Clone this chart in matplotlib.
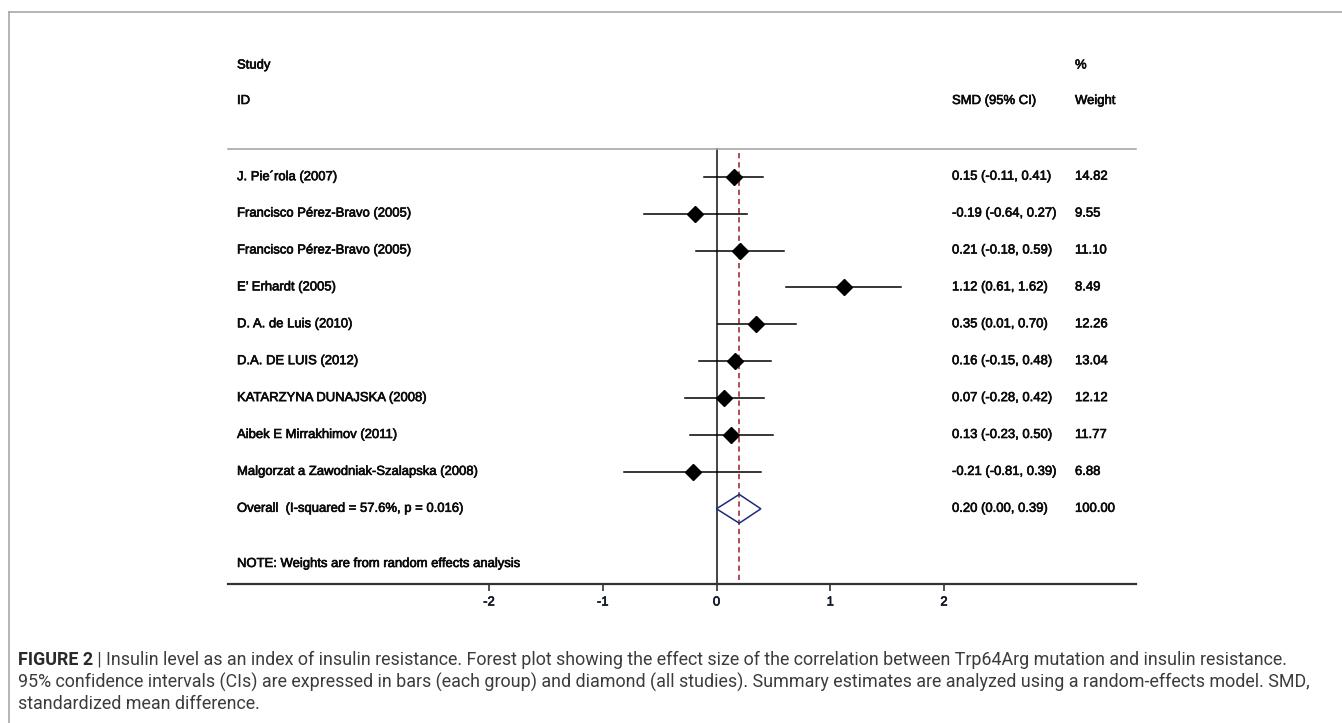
import matplotlib
matplotlib.use("Agg")
import matplotlib.pyplot as plt
import matplotlib.patheffects as pe
from matplotlib.patches import Polygon
from matplotlib.lines import Line2D

plt.rcParams['axes.unicode_minus'] = False

# ---------------- data ----------------
studies = ["J. Pie\u00b4rola (2007)", "Francisco P\u00e9rez-Bravo (2005)", "Francisco P\u00e9rez-Bravo (2005)",
           "E\u2019 Erhardt (2005)", "D. A. de Luis (2010)", "D.A. DE LUIS (2012)",
           "KATARZYNA DUNAJSKA (2008)", "Aibek E Mirrakhimov (2011)",
           "Malgorzat a Zawodniak-Szalapska (2008)"]
smd = [0.15, -0.19, 0.21, 1.12, 0.35, 0.16, 0.07, 0.13, -0.21]
ci_low = [-0.11, -0.64, -0.18, 0.61, 0.01, -0.15, -0.28, -0.23, -0.81]
ci_high = [0.41, 0.27, 0.59, 1.62, 0.70, 0.48, 0.42, 0.50, 0.39]
weights = [14.82, 9.55, 11.10, 8.49, 12.26, 13.04, 12.12, 11.77, 6.88]
overall_label = "Overall  (I-squared = 57.6%, p = 0.016)"
overall_smd, overall_low, overall_high, overall_weight = 0.20, 0.00, 0.39, 100.00
xticks = [-2, -1, 0, 1, 2]
xtick_labels = ["-2", "-1", "0", "1", "2"]
note = "NOTE: Weights are from random effects analysis"
caption_bold = "FIGURE 2"
caption_lines = [
    " | Insulin level as an index of insulin resistance. Forest plot showing the effect size of the correlation between Trp64Arg mutation and insulin resistance.",
    "95% confidence intervals (CIs) are expressed in bars (each group) and diamond (all studies). Summary estimates are analyzed using a random-effects model. SMD,",
    "standardized mean difference.",
]

# ---------------- figure ----------------
W, H = 1342, 723
fig = plt.figure(figsize=(W / 100, H / 100), dpi=100)
fig.patch.set_facecolor("white")

def fx(px):
    return px / W

def fy(py):
    return 1 - py / H

# frame (light gray, open on right/bottom)
frame_c = "#a8a8a8"
fig.add_artist(Line2D([fx(9), 1.0], [fy(12), fy(12)], color=frame_c, lw=1.2, transform=fig.transFigure))
fig.add_artist(Line2D([fx(9), fx(9)], [fy(12), 0.0], color=frame_c, lw=1.2, transform=fig.transFigure))

# axes geometry (pixel based)
ax_left_px, ax_right_px = 228, 1136
ax_top_px, ax_bot_px = 40, 584
ax = fig.add_axes([fx(ax_left_px), fy(ax_bot_px), fx(ax_right_px - ax_left_px), (ax_bot_px - ax_top_px) / H])

x0px, unit = 716.5, 113.75
row0px, rowstep = 176.7, 36.9
ax.set_xlim((ax_left_px - x0px) / unit, (ax_right_px - x0px) / unit)
ybot = (ax_bot_px - row0px) / rowstep
ytop = (ax_top_px - row0px) / rowstep
ax.set_ylim(ybot, ytop)

def xd(px):
    return (px - x0px) / unit

def yd(py):
    return (py - row0px) / rowstep

fs = 9.4
fam = ["Liberation Sans", "DejaVu Sans"]
tc = "#0a0a0a"
heavy = [pe.withStroke(linewidth=0.45, foreground=tc)]

def txt(x, y, s):
    ax.text(x, y, s, fontsize=fs, family=fam, color=tc, va="center", ha="left", path_effects=heavy)

for s in ["top", "left", "right"]:
    ax.spines[s].set_visible(False)
ax.spines["bottom"].set_color("#333333")
ax.spines["bottom"].set_linewidth(1.6)
ax.set_yticks([])
ax.set_xticks(xticks)
ax.set_xticklabels(xtick_labels)
ax.tick_params(axis="x", direction="out", length=5, width=1.1, color="#222222",
               labelsize=fs, pad=4, labelcolor="#101828")
for t in ax.get_xticklabels():
    t.set_fontfamily(fam)
    t.set_path_effects([pe.withStroke(linewidth=0.45, foreground="#101828")])

# header
hline_y = yd(149)
ax.plot([xd(ax_left_px), xd(ax_right_px)], [hline_y, hline_y], color="#a0a0a0", lw=1.1, clip_on=False)
txt(xd(237), yd(65.5), "Study")
txt(xd(237), yd(101), "ID")
txt(xd(952), yd(101), "SMD (95% CI)")
txt(xd(1075), yd(65.5), "%")
txt(xd(1075), yd(101), "Weight")

# reference lines
ax.plot([0, 0], [hline_y, ybot], color="#111111", lw=1.1, zorder=1)
ax.plot([overall_smd, overall_smd], [yd(153), ybot], color="#9b1c24", lw=1.1,
        dashes=(3.5, 2.5), zorder=1)

# studies
for i, (name, m, lo, hi, w) in enumerate(zip(studies, smd, ci_low, ci_high, weights)):
    ax.plot([lo, hi], [i, i], color="black", lw=1.1, zorder=2)
    ax.plot([m], [i], marker="D", color="black", ms=8.5, zorder=3)
    txt(xd(237), i, name)
    txt(xd(952), i, f"{m:.2f} ({lo:.2f}, {hi:.2f})")
    txt(xd(1075), i, f"{w:.2f}")

# overall diamond
r = len(studies)
hh = 0.39
diamond = Polygon([(overall_low, r), (overall_smd, r - hh), (overall_high, r), (overall_smd, r + hh)],
                  closed=True, fill=False, edgecolor="#1f2a7a", lw=1.1, zorder=3)
ax.add_patch(diamond)
txt(xd(237), r, overall_label)
txt(xd(952), r, f"{overall_smd:.2f} ({overall_low:.2f}, {overall_high:.2f})")
txt(xd(1075), r, f"{overall_weight:.2f}")

txt(xd(237), yd(564), note)

# ---------------- caption ----------------
cap_fam = ["Roboto", "DejaVu Sans"]
cap_c = "#3c3c3c"
cap_fs = 12.9
renderer = fig.canvas.get_renderer()
b = fig.text(fx(18), fy(660), caption_bold, fontsize=cap_fs, family=cap_fam, weight="bold",
             color="#2a2a2a", va="center", ha="left")
bb = b.get_window_extent(renderer=renderer)
fig.text(bb.x1 / W, fy(660), caption_lines[0], fontsize=cap_fs, family=cap_fam, color=cap_c,
         va="center", ha="left")
fig.text(fx(18), fy(682), caption_lines[1], fontsize=cap_fs, family=cap_fam, color=cap_c,
         va="center", ha="left")
fig.text(fx(18), fy(704), caption_lines[2], fontsize=cap_fs, family=cap_fam, color=cap_c,
         va="center", ha="left")

fig.savefig("out.png", dpi=100)
